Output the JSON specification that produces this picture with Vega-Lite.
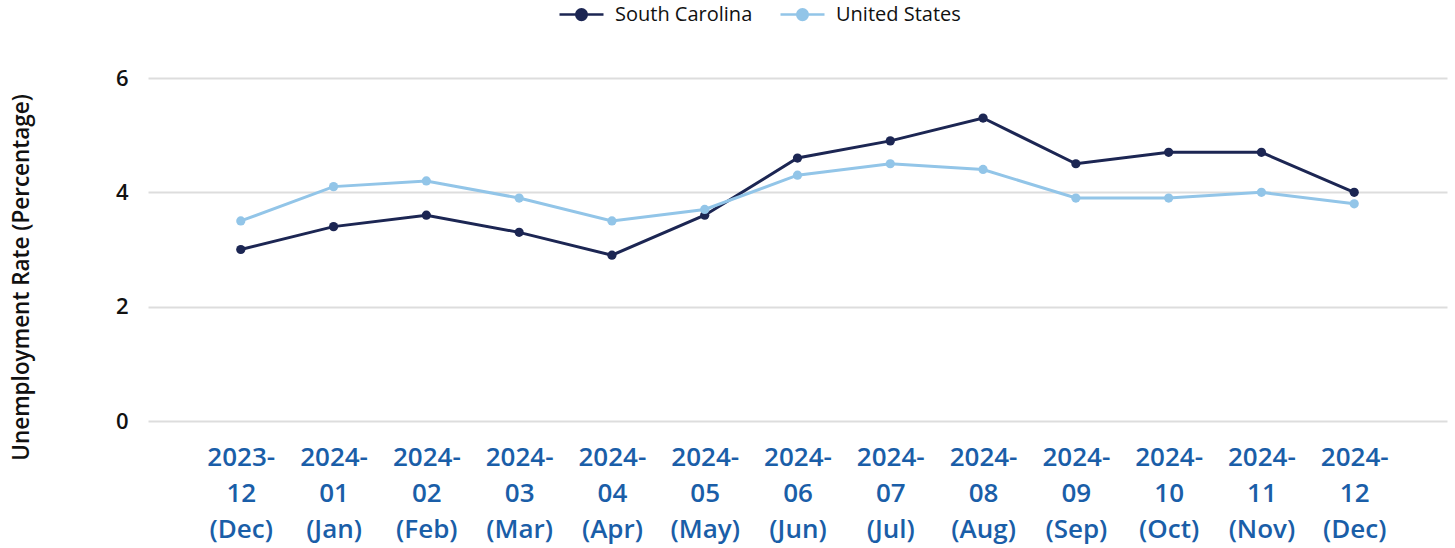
{
  "$schema": "https://vega.github.io/schema/vega-lite/v6.json",
  "autosize": {"type": "none"},
  "width": 1299,
  "height": 343,
  "padding": {"left": 148, "top": 78, "right": 8, "bottom": 127},
  "background": "white",
  "config": {
    "view": {"stroke": null},
    "font": "Open Sans"
  },
  "data": {
    "values": [
      {"month": "2023-12 (Dec)", "series": "South Carolina", "rate": 3.0},
      {"month": "2024-01 (Jan)", "series": "South Carolina", "rate": 3.4},
      {"month": "2024-02 (Feb)", "series": "South Carolina", "rate": 3.6},
      {"month": "2024-03 (Mar)", "series": "South Carolina", "rate": 3.3},
      {"month": "2024-04 (Apr)", "series": "South Carolina", "rate": 2.9},
      {"month": "2024-05 (May)", "series": "South Carolina", "rate": 3.6},
      {"month": "2024-06 (Jun)", "series": "South Carolina", "rate": 4.6},
      {"month": "2024-07 (Jul)", "series": "South Carolina", "rate": 4.9},
      {"month": "2024-08 (Aug)", "series": "South Carolina", "rate": 5.3},
      {"month": "2024-09 (Sep)", "series": "South Carolina", "rate": 4.5},
      {"month": "2024-10 (Oct)", "series": "South Carolina", "rate": 4.7},
      {"month": "2024-11 (Nov)", "series": "South Carolina", "rate": 4.7},
      {"month": "2024-12 (Dec)", "series": "South Carolina", "rate": 4.0},
      {"month": "2023-12 (Dec)", "series": "United States", "rate": 3.5},
      {"month": "2024-01 (Jan)", "series": "United States", "rate": 4.1},
      {"month": "2024-02 (Feb)", "series": "United States", "rate": 4.2},
      {"month": "2024-03 (Mar)", "series": "United States", "rate": 3.9},
      {"month": "2024-04 (Apr)", "series": "United States", "rate": 3.5},
      {"month": "2024-05 (May)", "series": "United States", "rate": 3.7},
      {"month": "2024-06 (Jun)", "series": "United States", "rate": 4.3},
      {"month": "2024-07 (Jul)", "series": "United States", "rate": 4.5},
      {"month": "2024-08 (Aug)", "series": "United States", "rate": 4.4},
      {"month": "2024-09 (Sep)", "series": "United States", "rate": 3.9},
      {"month": "2024-10 (Oct)", "series": "United States", "rate": 3.9},
      {"month": "2024-11 (Nov)", "series": "United States", "rate": 4.0},
      {"month": "2024-12 (Dec)", "series": "United States", "rate": 3.8}
    ]
  },
  "mark": {"type": "line", "strokeWidth": 3, "point": {"filled": true, "size": 85, "opacity": 1}},
  "encoding": {
    "x": {
      "field": "month",
      "type": "ordinal",
      "sort": null,
      "scale": {"type": "point", "padding": 1},
      "axis": {
        "title": null,
        "domain": false,
        "ticks": false,
        "grid": false,
        "labelAngle": 0,
        "labelExpr": "[slice(datum.value,0,5), slice(datum.value,5,7), slice(datum.value,8)]",
        "labelFont": "Open Sans",
        "labelFontSize": 26,
        "labelFontWeight": 600,
        "labelColor": "#1a5ea8",
        "labelLineHeight": 36,
        "labelPadding": 23,
        "labelBaseline": "top"
      }
    },
    "y": {
      "field": "rate",
      "type": "quantitative",
      "scale": {"domain": [0, 6], "nice": false},
      "axis": {
        "title": "Unemployment Rate (Percentage)",
        "titleFont": "Open Sans",
        "titleFontSize": 22.5,
        "titleFontWeight": 600,
        "titleColor": "#111111",
        "titlePadding": 82,
        "titleY": 199,
        "values": [0, 2, 4, 6],
        "domain": false,
        "ticks": false,
        "labelFont": "Open Sans",
        "labelFontSize": 22,
        "labelFontWeight": 600,
        "labelColor": "#111111",
        "labelPadding": 20,
        "gridColor": "#dddddd",
        "gridWidth": 2
      }
    },
    "color": {
      "field": "series",
      "type": "nominal",
      "scale": {"domain": ["South Carolina", "United States"], "range": ["#1c2653", "#92c5e8"]},
      "legend": {
        "title": null,
        "orient": "none",
        "direction": "horizontal",
        "legendX": 410,
        "legendY": -87,
        "symbolType": "M-1,0L1,0M-0.24,0A0.24,0.24 0 1,1 0.24,0A0.24,0.24 0 1,1 -0.24,0",
        "symbolSize": 1936,
        "symbolStrokeWidth": 2.5,
        "labelFont": "Open Sans",
        "labelFontSize": 20,
        "labelColor": "#111111",
        "labelOffset": 10,
        "columnPadding": 22,
        "encode": {
          "symbols": {"update": {"fill": {"scale": "color", "field": "value"}}}
        }
      }
    }
  }
}
